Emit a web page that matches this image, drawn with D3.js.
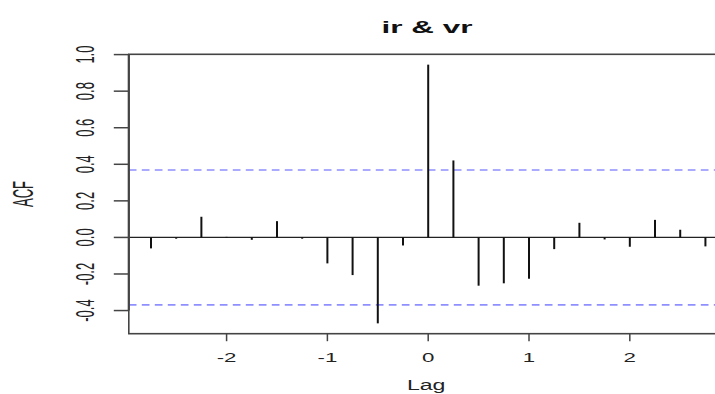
<!DOCTYPE html>
<html>
<head>
<meta charset="utf-8">
<script src="https://cdn.jsdelivr.net/npm/d3@7"></script>
<style>
  html, body { margin: 0; padding: 0; background: #fff; }
  svg { display: block; }
  text { font-family: "Liberation Sans", Arial, sans-serif; fill: #222; }
</style>
</head>
<body>
<svg id="chart" width="715" height="394"></svg>
<script>
// Cross-correlation of ir and vr by lag (quarterly lags)
const lags = [-2.75, -2.5, -2.25, -2.0, -1.75, -1.5, -1.25, -1.0, -0.75, -0.5, -0.25,
              0, 0.25, 0.5, 0.75, 1.0, 1.25, 1.5, 1.75, 2.0, 2.25, 2.5, 2.75];
const acf  = [-0.060, -0.007, 0.113, 0.003, -0.013, 0.089, -0.007, -0.142, -0.206, -0.470, -0.044,
              0.945, 0.421, -0.264, -0.251, -0.226, -0.064, 0.080, -0.011, -0.051, 0.096, 0.042, -0.049];
const ciLevel = 0.369;          // approximate 95% bound
const xTicks = [-2, -1, 0, 1, 2];
const yTicks = [-0.4, -0.2, 0.0, 0.2, 0.4, 0.6, 0.8, 1.0];
const title = "ir & vr";
const xTitle = "Lag";
const yTitle = "ACF";

const svg = d3.select("#chart");
const plot = { left: 128.8, right: 727.6, top: 54.3, bottom: 333.7 };
const SX = 1.65; // horizontal text stretch (x labels)
const SY = 2.0;  // horizontal stretch of rotated labels

// R-style 4% padded ranges
function padded(lo, hi) { const p = (hi - lo) * 0.04; return [lo - p, hi + p]; }
const xDom = padded(d3.min(lags), d3.max(lags));
const yExt = d3.extent(acf.concat([ciLevel, -ciLevel]));
const yDom = padded(yExt[0], yExt[1]);

const x = d3.scaleLinear().domain(xDom).range([plot.left, plot.right]);
const y = d3.scaleLinear().domain(yDom).range([plot.bottom, plot.top]);

// zero line
svg.append("line")
  .attr("x1", plot.left).attr("x2", plot.right)
  .attr("y1", y(0)).attr("y2", y(0))
  .attr("stroke", "#222").attr("stroke-width", 1.2);

// confidence bounds
[ciLevel, -ciLevel].forEach(c => {
  svg.append("line")
    .attr("x1", plot.left).attr("x2", plot.right)
    .attr("y1", y(c)).attr("y2", y(c))
    .attr("stroke", "#8f8fff").attr("stroke-width", 1.6)
    .attr("stroke-dasharray", "7.7,5.3");
});

// correlation spikes
svg.append("g").selectAll("line").data(lags).join("line")
  .attr("x1", d => x(d)).attr("x2", d => x(d))
  .attr("y1", y(0)).attr("y2", (d, i) => y(acf[i]))
  .attr("stroke", "#111").attr("stroke-width", 2);

// frame
svg.append("rect")
  .attr("x", plot.left).attr("y", plot.top)
  .attr("width", plot.right - plot.left).attr("height", plot.bottom - plot.top)
  .attr("fill", "none").attr("stroke", "#444").attr("stroke-width", 1.6);

// x axis
const xAxis = svg.append("g");
xAxis.selectAll("line").data(xTicks).join("line")
  .attr("x1", d => x(d)).attr("x2", d => x(d))
  .attr("y1", plot.bottom).attr("y2", plot.bottom + 7.5)
  .attr("stroke", "#444").attr("stroke-width", 1.5);
xAxis.selectAll("text").data(xTicks).join("text")
  .attr("transform", d => `translate(${x(d)},${362}) scale(${SX},1)`)
  .attr("text-anchor", "middle").attr("font-size", 13.5)
  .text(d => d3.format("")(d).replace("−", "-"));

// y axis
const yAxis = svg.append("g");
yAxis.append("line")
  .attr("x1", plot.left).attr("x2", plot.left)
  .attr("y1", y(yTicks[0])).attr("y2", y(yTicks[yTicks.length - 1]))
  .attr("stroke", "#444").attr("stroke-width", 2.2);
yAxis.selectAll("line.tk").data(yTicks).join("line").attr("class", "tk")
  .attr("x1", plot.left - 15).attr("x2", plot.left)
  .attr("y1", d => y(d)).attr("y2", d => y(d))
  .attr("stroke", "#444").attr("stroke-width", 1.5);
yAxis.selectAll("text").data(yTicks).join("text")
  .attr("transform", d => `translate(94,${y(d)}) scale(${SY},1) rotate(-90)`)
  .attr("text-anchor", "middle").attr("font-size", 13)
  .text(d => d3.format(".1f")(d).replace("−", "-"));

// titles
svg.append("text")
  .attr("transform", `translate(427,33) scale(1.85,1)`)
  .attr("text-anchor", "middle").attr("font-size", 17).attr("font-weight", "bold")
  .style("fill", "#111")
  .text(title);
svg.append("text")
  .attr("transform", `translate(${(plot.left + 727.6) / 2 - 2},390) scale(${SX},1)`)
  .attr("text-anchor", "middle").attr("font-size", 14)
  .text(xTitle);
svg.append("text")
  .attr("transform", `translate(33,${(plot.top + plot.bottom) / 2}) scale(2.2,1) rotate(-90)`)
  .attr("text-anchor", "middle").attr("font-size", 13)
  .text(yTitle);
</script>
</body>
</html>
